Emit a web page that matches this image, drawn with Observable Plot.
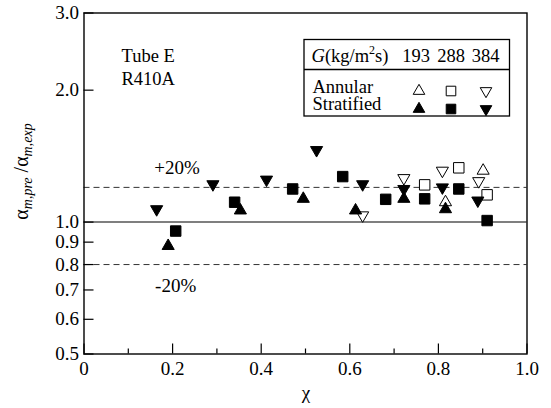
<!DOCTYPE html>
<html><head><meta charset="utf-8">
<script src="https://cdn.jsdelivr.net/npm/d3@7"></script>
<script src="https://cdn.jsdelivr.net/npm/@observablehq/plot@0.6"></script>
<style>
body{margin:0;background:#fff;}
#wrap{position:relative;width:551px;height:408px;}
svg text{font-family:"Liberation Serif","DejaVu Serif",serif !important;}
</style></head><body><div id="wrap"></div>
<script>
const xTicks = [0, 0.2, 0.4, 0.6, 0.8, 1.0];
const xMinorTicks = [0.1, 0.3, 0.5, 0.7, 0.9];
const yTicks = [0.5, 0.6, 0.7, 0.8, 0.9, 1.0, 2.0, 3.0];
const refLines = [0.8, 1.2];
const massFlux = [193, 288, 384];
const regimes = ["Annular", "Stratified"];

// Stratified (filled symbols): [x, ratio]
const strat193 = [[0.19,0.882],[0.353,1.063],[0.495,1.13],[0.613,1.063],[0.722,1.13],[0.816,1.07]];
const strat288 = [[0.207,0.954],[0.340,1.11],[0.471,1.19],[0.584,1.27],[0.681,1.127],[0.769,1.13],[0.846,1.19],[0.910,1.008]];
const strat384 = [[0.164,1.07],[0.291,1.22],[0.412,1.25],[0.525,1.46],[0.629,1.22],[0.722,1.19],[0.809,1.20],[0.889,1.12]];
// Annular (open symbols)
const ann193 = [[0.816,1.11],[0.901,1.31]];
const ann288 = [[0.769,1.216],[0.846,1.33],[0.910,1.154]];
const ann384 = [[0.629,1.036],[0.722,1.26],[0.809,1.31],[0.891,1.24]];

const FONT = "Liberation Serif, DejaVu Serif, serif";
const W = 551, H = 408;
const ml = 83.5, mr = 24.5, mt = 12.5, mb = 54.5;

const groups = [
  {d: ann193, G: 193, regime: "Annular"},
  {d: ann288, G: 288, regime: "Annular"},
  {d: ann384, G: 384, regime: "Annular"},
  {d: strat193, G: 193, regime: "Stratified"},
  {d: strat288, G: 288, regime: "Stratified"},
  {d: strat384, G: 384, regime: "Stratified"}
];
const symOf = G => G === 288 ? "square" : "triangle";
const rOf = G => G === 288 ? 5.9 : 4.5;
const rotOf = G => G === 384 ? 180 : 0;

const dotMarks = groups.map(g => Plot.dot(g.d, {
  x: d => d[0], y: d => d[1],
  symbol: symOf(g.G), r: rOf(g.G), rotate: rotOf(g.G),
  fill: g.regime === "Stratified" ? "black" : "white",
  stroke: "black", strokeWidth: 1
}));

const fmtX = d => d === 0 ? "0" : d3.format(".1f")(d);

const chart = Plot.plot({
  width: W, height: H,
  marginLeft: ml, marginRight: mr, marginTop: mt, marginBottom: mb,
  style: {fontFamily: FONT, fontSize: "19px", color: "black", background: "white"},
  x: {domain: [0, 1], label: null},
  y: {type: "log", domain: [0.5, 3.0], label: null},
  marks: [
    Plot.ruleY([1.0], {stroke: "#555", strokeWidth: 1.5}),
    Plot.ruleY(refLines, {stroke: "#333", strokeWidth: 1, strokeDasharray: "6,4"}),
    Plot.text(["+20%"], {x: 0.21, y: 1.29, text: d => d, textAnchor: "middle", lineAnchor: "bottom", fontSize: 19, fontFamily: FONT}),
    Plot.text(["-20%"], {x: 0.207, y: 0.691, text: d => d, textAnchor: "middle", lineAnchor: "bottom", fontSize: 19, fontFamily: FONT}),
    ...dotMarks,
    Plot.axisY(yTicks, {tickSize: 0, tickPadding: 5, tickFormat: d3.format(".1f"), label: null, fontSize: 19, fontFamily: FONT, fontVariant: "normal"}),
    Plot.axisY(yTicks, {tickSize: -10, tickFormat: () => "", label: null, strokeWidth: 1.2}),
    Plot.axisX(xTicks, {tickSize: 0, tickPadding: 7, tickFormat: fmtX, label: null, fontSize: 19, fontFamily: FONT, fontVariant: "normal"}),
    Plot.axisX(xTicks, {tickSize: -10, tickFormat: () => "", label: null, strokeWidth: 1.2}),
    Plot.axisX(xMinorTicks, {tickSize: -5, tickFormat: () => "", label: null, strokeWidth: 1.2}),
    Plot.frame({stroke: "black", strokeWidth: 1.4})
  ]
});
document.getElementById("wrap").appendChild(chart);

// annotations
const svg = d3.select(chart);
const ann = svg.append("g").style("font-family", FONT).attr("fill", "black").attr("text-anchor", "start");

// Tube / refrigerant
ann.append("text").attr("x", 121.5).attr("y", 61.5).attr("font-size", 18.5).text("Tube E");
ann.append("text").attr("x", 121.5).attr("y", 84.5).attr("font-size", 18.5).text("R410A");

// y label
const yl = ann.append("text").attr("transform", "translate(28,171.5) rotate(-90)")
  .attr("text-anchor", "middle").attr("font-size", 20);
yl.append("tspan").text("α");
yl.append("tspan").attr("font-size", 14).attr("font-style", "italic").attr("dy", 4).text("m,pre");
yl.append("tspan").attr("dy", -4).text(" /α");
yl.append("tspan").attr("font-size", 14).attr("font-style", "italic").attr("dy", 4).text("m,exp");

// x label
ann.append("text").attr("x", 306).attr("y", 399).attr("text-anchor", "middle").attr("font-size", 19).text("χ");

// legend box
const lg = ann.append("g");
const bx0 = 304, bx1 = 509.5, by0 = 39.5, by1 = 116, bsep = 69.5;
lg.append("rect").attr("x", bx0).attr("y", by0).attr("width", bx1 - bx0).attr("height", by1 - by0)
  .attr("fill", "white").attr("stroke", "black").attr("stroke-width", 1.3);
lg.append("line").attr("x1", bx0).attr("x2", bx1).attr("y1", bsep).attr("y2", bsep)
  .attr("stroke", "black").attr("stroke-width", 1.3);
const hd = lg.append("text").attr("x", 311.5).attr("y", 61.5).attr("font-size", 18.5);
hd.append("tspan").attr("font-style", "italic").text("G");
hd.append("tspan").text("(kg/m");
hd.append("tspan").attr("font-size", 12).attr("dy", -8).text("2");
hd.append("tspan").attr("dy", 8).text("s)");
const colX = [416, 451, 485.5];
massFlux.forEach((g, i) => {
  lg.append("text").attr("x", colX[i]).attr("y", 61.5).attr("text-anchor", "middle").attr("font-size", 18.5).text(g);
});
const rowY = [93, 110];
const symX = [419, 451, 486];
const symCY = [91, 109];
regimes.forEach((rg, ri) => {
  lg.append("text").attr("x", 312.5).attr("y", rowY[ri]).attr("font-size", 18.5).text(rg);
  massFlux.forEach((g, gi) => {
    const r = g === 288 ? 5.4 : 4.3;
    const sym = g === 288 ? d3.symbolSquare : d3.symbolTriangle;
    lg.append("path").attr("d", d3.symbol(sym, Math.PI * r * r)())
      .attr("transform", `translate(${symX[gi]},${symCY[ri]}) rotate(${rotOf(g)})`)
      .attr("fill", rg === "Stratified" ? "black" : "white").attr("stroke", "black").attr("stroke-width", 1);
  });
});
</script></body></html>
